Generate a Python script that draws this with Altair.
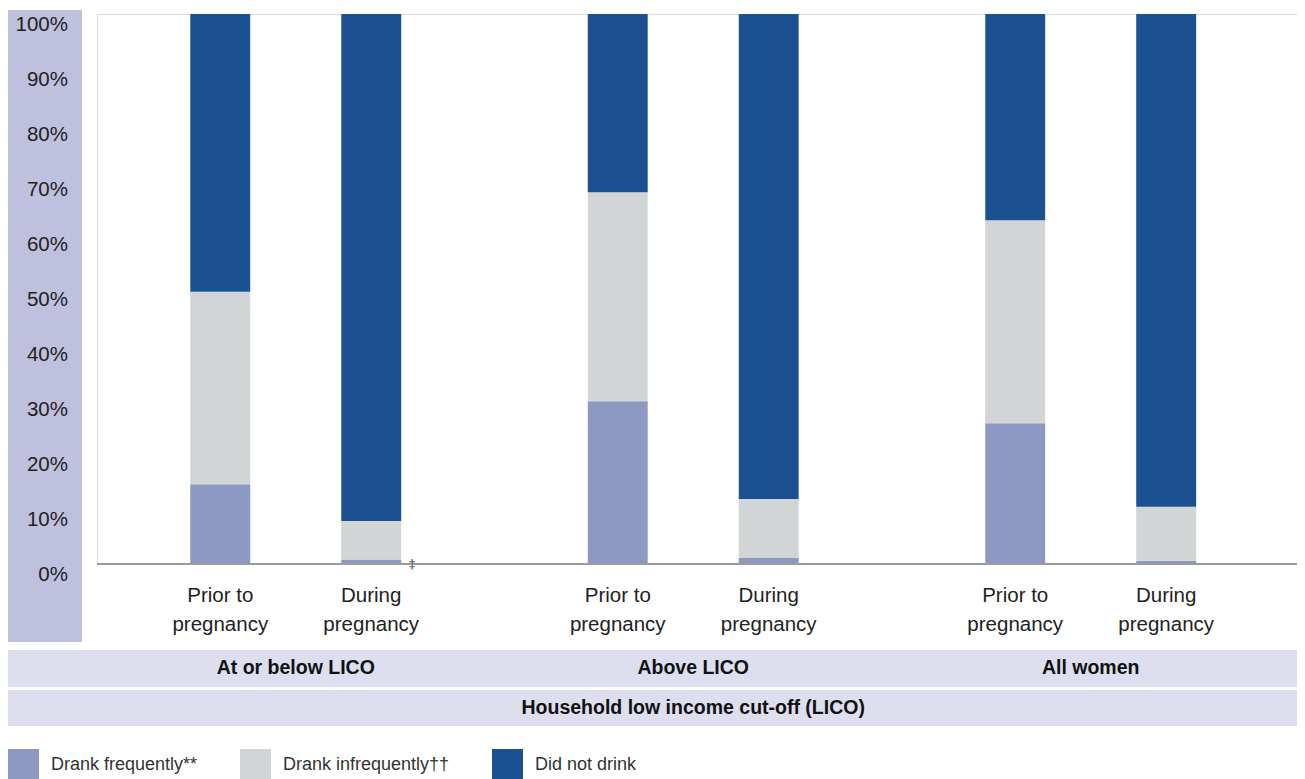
import altair as alt
import pandas as pd

groups = ["At or below LICO", "Above LICO", "All women"]
periods = ["Prior to pregnancy", "During pregnancy"]
period_labels = ["Prior to\npregnancy", "During\npregnancy"]
categories = ["Drank frequently**", "Drank infrequently\u2020\u2020", "Did not drink"]
frequent = [14.5, 0.8, 29.6, 1.1, 25.6, 0.6]
infrequent = [35.0, 7.0, 38.0, 10.7, 36.9, 9.8]
did_not = [50.5, 92.2, 32.4, 88.2, 37.5, 89.6]
notes = ["", "\u2021", "", "", "", ""]
y_ticks = [0, 10, 20, 30, 40, 50, 60, 70, 80, 90, 100]
axis_title = "Household low income cut-off (LICO)"
colors = ["#8c99c3", "#d1d5d6", "#1b5190"]

FONT = "Liberation Sans, Arial, sans-serif"

bar_keys = [(g, p) for g in groups for p in periods]
rows = []
for i, (g, p) in enumerate(bar_keys):
    for k, (cat, vals) in enumerate(zip(categories, [frequent, infrequent, did_not])):
        rows.append({"group": g, "period": p, "category": cat, "value": vals[i], "k": k})
bars_df = pd.DataFrame(rows)

labels_df = pd.DataFrame(
    [{"group": g, "period": p, "label": period_labels[j]} for g in groups for j, p in enumerate(periods)]
)
notes_df = pd.DataFrame(
    [{"group": g, "period": p, "note": notes[i]} for i, (g, p) in enumerate(bar_keys) if notes[i]]
)
groups_df = pd.DataFrame({"group": groups})
title_df = pd.DataFrame([{"group": groups[1], "text": axis_title}])
yt_df = pd.DataFrame({"v": y_ticks, "label": [f"{v}%" for v in y_ticks]})
one = pd.DataFrame({"a": [0]})

W = 1200
x_scale = alt.Scale(domain=groups, paddingInner=0, paddingOuter=0.0095, align=0)
xo_scale = alt.Scale(domain=periods, paddingInner=0.603, paddingOuter=0.618)
y_scale = alt.Scale(domain=[0, 100], nice=False)

X = alt.X("group:N", scale=x_scale, axis=None)
XO = alt.XOffset("period:N", scale=xo_scale, sort=periods)

panel = alt.Chart(one).mark_rect(color="#bfc0dd").encode(
    x=alt.value(-89), x2=alt.value(-15), y=alt.value(-4), y2=alt.value(628)
)
row1 = alt.Chart(one).mark_rect(color="#dddfee").encode(
    x=alt.value(-89), x2=alt.value(W), y=alt.value(636), y2=alt.value(673)
)
row2 = alt.Chart(one).mark_rect(color="#dddfee").encode(
    x=alt.value(-89), x2=alt.value(W), y=alt.value(676), y2=alt.value(712)
)

bars = alt.Chart(bars_df).mark_bar().encode(
    x=X,
    xOffset=XO,
    y=alt.Y(
        "value:Q",
        stack="zero",
        scale=y_scale,
        axis=alt.Axis(
            values=y_ticks, labels=False, ticks=False, domain=False, title=None,
            grid=True, gridColor="#b4b7b7", gridWidth=1,
        ),
    ),
    color=alt.Color(
        "category:N",
        scale=alt.Scale(domain=categories, range=colors),
        legend=alt.Legend(
            title=None, orient="none", legendX=-89, legendY=735, direction="horizontal",
            symbolType="square", symbolSize=960, symbolStrokeWidth=0, symbolOpacity=1,
            labelFont=FONT, labelFontSize=18, labelColor="#333333", labelOffset=12,
            columnPadding=42, labelLimit=400,
        ),
    ),
    order=alt.Order("k:Q", sort="ascending"),
)

zero_rule = alt.Chart(one).mark_rule(color="#9a9c9c", strokeWidth=2).encode(
    y=alt.YDatum(0, scale=y_scale), x=alt.value(0), x2=alt.value(W)
)

ylabels = alt.Chart(yt_df).mark_text(
    align="right", baseline="middle", dy=11, font=FONT, fontSize=20.5, color="#222222"
).encode(y=alt.Y("v:Q", scale=y_scale, axis=None), x=alt.value(-29), text="label:N")

xlabels = alt.Chart(labels_df).mark_text(
    align="center", baseline="alphabetic", font=FONT, fontSize=20.5, lineBreak="\n",
    lineHeight=29, color="#222222",
).encode(x=X, xOffset=XO, y=alt.value(588), text="label:N")

note_text = alt.Chart(notes_df).mark_text(
    align="center", baseline="middle", font=FONT, fontSize=13, dx=41, color="#444444"
).encode(x=X, xOffset=XO, y=alt.value(550), text="note:N")

headers = alt.Chart(groups_df).mark_text(
    align="center", baseline="middle", font=FONT, fontSize=19.5, fontWeight="bold", color="#111111"
).encode(x=X, y=alt.value(654), text="group:N")

title_text = alt.Chart(title_df).mark_text(
    align="center", baseline="middle", font=FONT, fontSize=19.5, fontWeight="bold", color="#111111"
).encode(x=X, y=alt.value(694), text="text:N")

chart = alt.layer(
    panel, row1, row2, bars, zero_rule, ylabels, xlabels, note_text, headers, title_text
).properties(
    width=W,
    height=550,
    padding={"left": 89, "top": 6, "right": 0, "bottom": 215},
    autosize=alt.AutoSizeParams(type="none"),
).configure_view(
    stroke="#b9bcbc", strokeWidth=1
).configure(background="white")

chart.save("out.html", embed_options={"renderer": "svg", "actions": False})
